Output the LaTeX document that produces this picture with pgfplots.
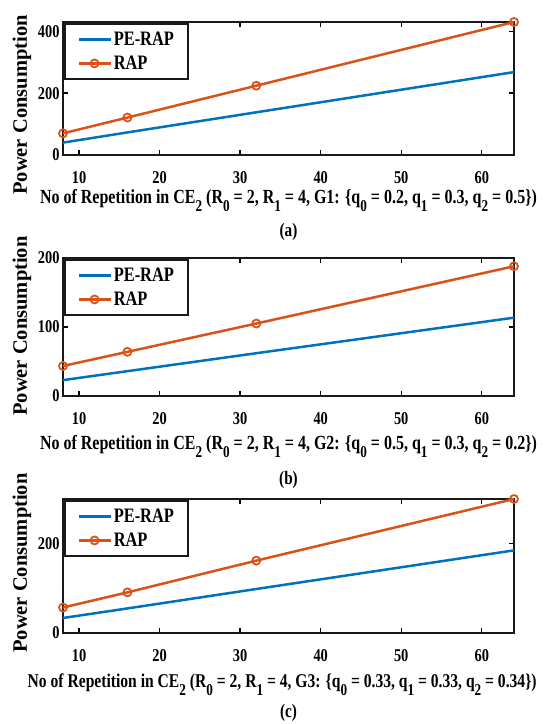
\documentclass[border=0pt]{standalone}
\usepackage{fontspec}
\setmainfont{Liberation Serif}[FakeStretch=0.8, UprightFont=* Bold]
\newfontfamily\ylfont{Liberation Serif Bold}
\usepackage{pgfplots}
\pgfplotsset{compat=1.18}
\definecolor{mblue}{rgb}{0,0.447,0.741}
\definecolor{morange}{rgb}{0.85,0.325,0.098}
\newcommand{\sub}[1]{\raisebox{-8pt}{\fontsize{16.5}{16.5}\selectfont #1}}
\pgfplotsset{
  mystyle/.style={
    scale only axis, width=451pt,
    xmin=8, xmax=64, xtick={10,20,...,60},
    ymin=0,
    tick align=inside, major tick length=5pt,
    axis line style={line width=1.9pt, black!90},
    tick style={line width=1.4pt, black},
    ticklabel style={font=\fontsize{18}{18}\selectfont},
    /pgf/number format/assume math mode=true,
    xticklabel style={yshift=-13pt},
    legend style={at={(0.003,0.993)}, anchor=north west, draw=black!90, line width=1.9pt,
      font=\fontsize{20.5}{21}\selectfont, inner xsep=12pt, inner ysep=6pt,
      row sep=5pt, cells={anchor=west}},
    legend image code/.code={\draw[mark repeat=2,mark phase=2] plot coordinates {(0pt,0pt) (16pt,0pt) (32pt,0pt)};},
    every axis y label/.style={rotate=90, anchor=center, font=\ylfont\fontsize{20.5}{21}\selectfont},
    every axis x label/.style={anchor=base, font=\fontsize{20}{20}\selectfont},
    clip=false,
  },
  pe/.style={mblue, line width=2.5pt},
  rap/.style={morange, line width=2.5pt, mark=o, mark size=4pt, mark options={line width=1.8pt}},
}
\begin{document}
\begin{tikzpicture}
\useasboundingbox (0,0) rectangle (550pt,724pt);
% (a)
\begin{axis}[mystyle, at={(63pt,569pt)}, anchor=south west, height=133pt,
  ymax=430, ytick={0,200,400},
  xlabel={No of Repetition in CE\sub{2} (R\sub{0} = 2, R\sub{1} = 4, G1: \{q\sub{0} = 0.2, q\sub{1} = 0.3, q\sub{2} = 0.5\})},
  xlabel style={at={(axis description cs:0.5,0)}, yshift=-49pt},
  ylabel={Power Consumption},
  ylabel style={at={(axis description cs:-0.091,0.376)}}]
\addplot[pe] coordinates {(8,40) (16,73) (32,138) (64,268)};
\addplot[rap] coordinates {(8,70) (16,121) (32,224) (64,430)};
\legend{PE-RAP,RAP}
\node[font=\fontsize{19}{19}\selectfont] at (axis description cs:0.5,-0.579) {(a)};
\end{axis}
% (b)
\begin{axis}[mystyle, at={(63pt,328pt)}, anchor=south west, height=138pt,
  ymax=200, ytick={0,100,200},
  xlabel={No of Repetition in CE\sub{2} (R\sub{0} = 2, R\sub{1} = 4, G2: \{q\sub{0} = 0.5, q\sub{1} = 0.3, q\sub{2} = 0.2\})},
  xlabel style={at={(axis description cs:0.5,0)}, yshift=-54pt},
  ylabel={Power Consumption},
  ylabel style={at={(axis description cs:-0.091,0.507)}}]
\addplot[pe] coordinates {(8,23) (16,36) (32,62) (64,113.5)};
\addplot[rap] coordinates {(8,43.5) (16,64) (32,105) (64,188)};
\legend{PE-RAP,RAP}
\node[font=\fontsize{19}{19}\selectfont] at (axis description cs:0.5,-0.609) {(b)};
\end{axis}
% (c)
\begin{axis}[mystyle, at={(63pt,91pt)}, anchor=south west, height=134pt,
  ymax=300, ytick={0,200},
  xlabel={No of Repetition in CE\sub{2} (R\sub{0} = 2, R\sub{1} = 4, G3: \{q\sub{0} = 0.33, q\sub{1} = 0.33, q\sub{2} = 0.34\})},
  xlabel style={at={(axis description cs:0.486,0)}, yshift=-54pt, font=\fontsize{19.5}{20}\selectfont},
  ylabel={Power Consumption},
  ylabel style={at={(axis description cs:-0.091,0.522)}}]
\addplot[pe] coordinates {(8,33.6) (16,55) (32,98.5) (64,185)};
\addplot[rap] coordinates {(8,57) (16,91) (32,162) (64,300)};
\legend{PE-RAP,RAP}
\node[font=\fontsize{19}{19}\selectfont] at (axis description cs:0.5,-0.597) {(c)};
\end{axis}
\end{tikzpicture}
\end{document}
